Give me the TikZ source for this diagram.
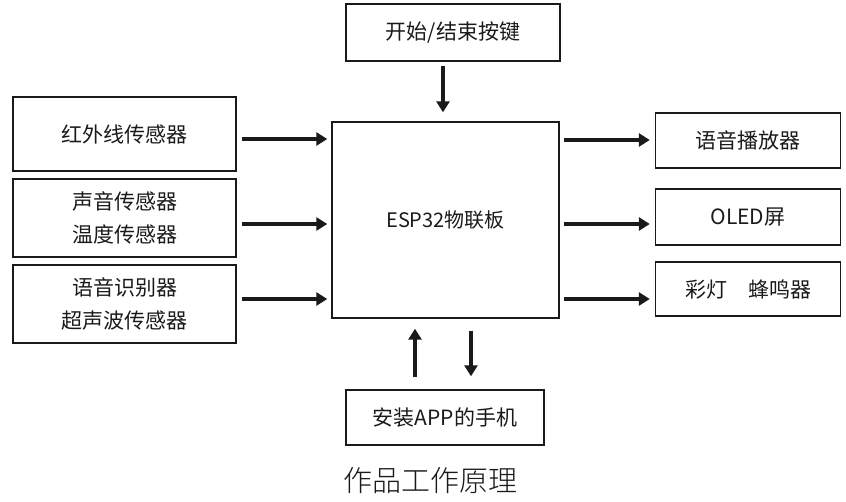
\documentclass[tikz,border=0pt]{standalone}
\usepackage{fontspec}
\setmainfont{Noto Sans CJK SC}
\newfontfamily\capfont{Noto Sans CJK SC Light}
\usetikzlibrary{arrows.meta}
\definecolor{ink}{HTML}{1A1A1A}
\begin{document}
\begin{tikzpicture}[x=1pt,y=-1pt,
  box/.style={draw=ink,line width=1.4pt,inner sep=0pt,text=ink,font=\fontsize{21}{33}\selectfont,align=center},
  arr/.style={draw=ink,line width=4pt,-{Triangle[length=11pt,width=13pt]}}]
\useasboundingbox (0,0) rectangle (846,501);
\node[box,minimum width=214pt,minimum height=57pt] (top) at (453,32.5) {开始/结束按键};
\node[box,minimum width=223pt,minimum height=74pt] (L1) at (124.5,134) {红外线传感器};
\node[box,minimum width=223pt,minimum height=78pt] (L2) at (124.5,218) {声音传感器\\温度传感器};
\node[box,minimum width=223pt,minimum height=78pt] (L3) at (124.5,304) {语音识别器\\超声波传感器};
\node[box,minimum width=227pt,minimum height=196pt,font=\fontsize{20}{24}\selectfont] (main) at (445.5,220) {ESP32物联板};
\node[box,minimum width=185pt,minimum height=55pt] (R1) at (748,140.5) {语音播放器};
\node[box,minimum width=185pt,minimum height=56pt] (R2) at (748,217) {OLED屏};
\node[box,minimum width=185pt,minimum height=54pt] (R3) at (748,289) {彩灯\hspace{1em}蜂鸣器};
\node[box,minimum width=198pt,minimum height=55pt] (bot) at (445,417.5) {安装APP的手机};
\node[text=ink,font=\capfont\fontsize{29}{34}\selectfont] (cap) at (430,481) {作品工作原理};
\draw[arr] ([xshift=5pt,yshift=-5pt]L1.east) -- ([xshift=-4pt,yshift=-5pt]L1.east -| main.west);
\draw[arr] ([xshift=5pt,yshift=-6pt]L2.east) -- ([xshift=-4pt,yshift=-6pt]L2.east -| main.west);
\draw[arr] ([xshift=5pt,yshift=5pt]L3.east) -- ([xshift=-4pt,yshift=5pt]L3.east -| main.west);
\draw[arr] ([xshift=4pt,yshift=0.5pt]R1.west -| main.east) -- ([xshift=-5pt,yshift=0.5pt]R1.west);
\draw[arr] ([xshift=4pt,yshift=-7pt]R2.west -| main.east) -- ([xshift=-5pt,yshift=-7pt]R2.west);
\draw[arr] ([xshift=4pt,yshift=-10pt]R3.west -| main.east) -- ([xshift=-5pt,yshift=-10pt]R3.west);
\draw[arr] ([xshift=-10pt,yshift=-4pt]top.south) -- ([xshift=-10pt,yshift=9pt]top.south |- main.north);
\draw[arr] ([xshift=-30pt,yshift=12pt]bot.north) -- ([xshift=-30pt,yshift=-10pt]bot.north |- main.south);
\draw[arr] ([xshift=26pt,yshift=-12pt]bot.north |- main.south) -- ([xshift=26pt,yshift=13pt]bot.north);
\end{tikzpicture}
\end{document}
